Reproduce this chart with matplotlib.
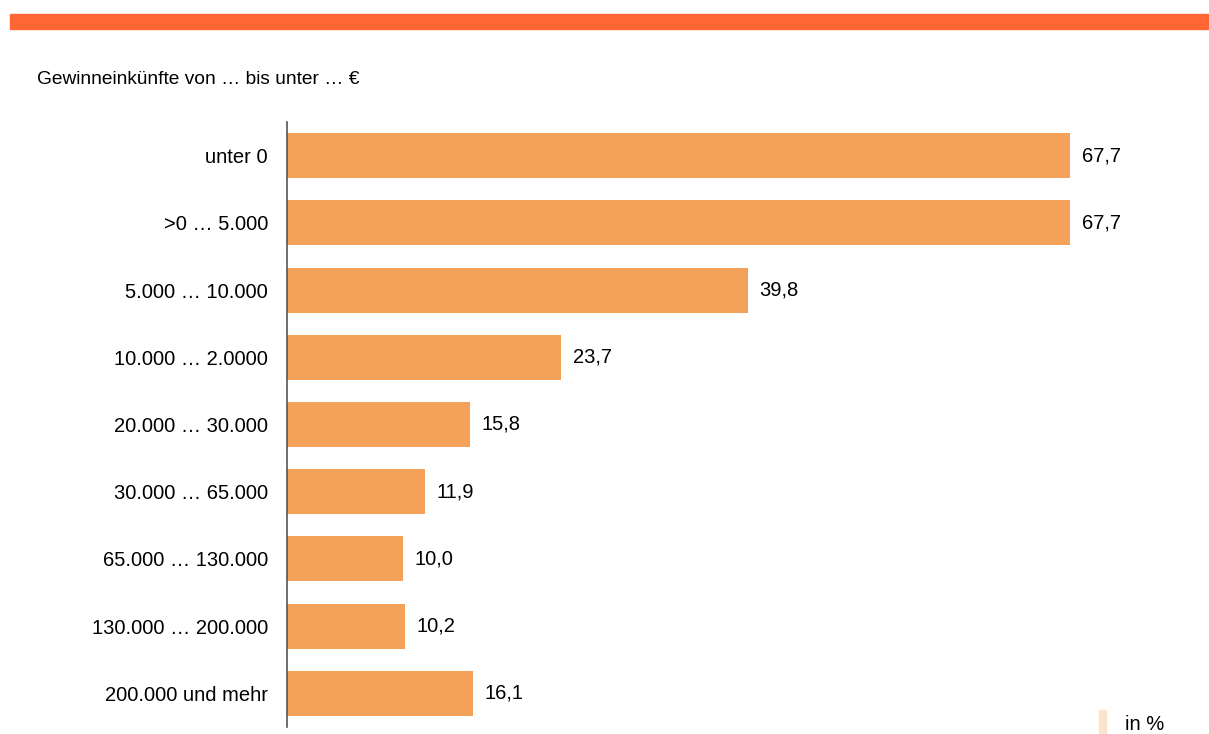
import matplotlib
matplotlib.use("Agg")
import matplotlib.pyplot as plt
from matplotlib.patches import Rectangle

plt.rcParams['font.family'] = ['Liberation Sans', 'DejaVu Sans']

# data
categories = ["unter 0", ">0 … 5.000", "5.000 … 10.000", "10.000 … 2.0000",
              "20.000 … 30.000", "30.000 … 65.000", "65.000 … 130.000",
              "130.000 … 200.000", "200.000 und mehr"]
values = [67.7, 67.7, 39.8, 23.7, 15.8, 11.9, 10.0, 10.2, 16.1]
value_labels = ["67,7", "67,7", "39,8", "23,7", "15,8", "11,9", "10,0", "10,2", "16,1"]

bar_color = "#F4A259"
W, H = 1209, 734

fig = plt.figure(figsize=(W / 100, H / 100), dpi=100)

# orange banner at the top
fig.patches.append(Rectangle((10 / W, 1 - 29 / H), 1 - 10 / W, 15 / H,
                             transform=fig.transFigure, color="#FF6633", zorder=0))
fig.text(37 / W, 1 - 80 / H, "Gewinneinkünfte von … bis unter … €",
         fontsize=13.8, va="center", ha="left")

ax = fig.add_axes([287 / W, 7 / H, 902.5 / W, 605 / H])
y = range(len(categories))
ax.barh(y, values, height=0.67, color=bar_color)
ax.set_xlim(0, 78)
ax.set_ylim(len(categories) - 0.5, -0.5)

for i, (v, lab) in enumerate(zip(values, value_labels)):
    ax.text(v + 1.0, i, lab, va="center", ha="left", fontsize=14.5)

ax.set_yticks(list(y))
ax.set_yticklabels(categories, fontsize=14.5)
ax.tick_params(axis="y", length=0, pad=13.7)
ax.set_xticks([])
for s in ["top", "right", "bottom"]:
    ax.spines[s].set_visible(False)
ax.spines["left"].set_color("#555555")
ax.spines["left"].set_linewidth(1.2)

# legend-ish key
fig.patches.append(Rectangle((1099 / W, 1 - 733 / H), 7 / W, 23 / H,
                             transform=fig.transFigure, color="#FCE4CC"))
fig.text(1125 / W, 1 - 725 / H, "in %", fontsize=14.5, va="center", ha="left")

plt.savefig("out.png", dpi=100)
